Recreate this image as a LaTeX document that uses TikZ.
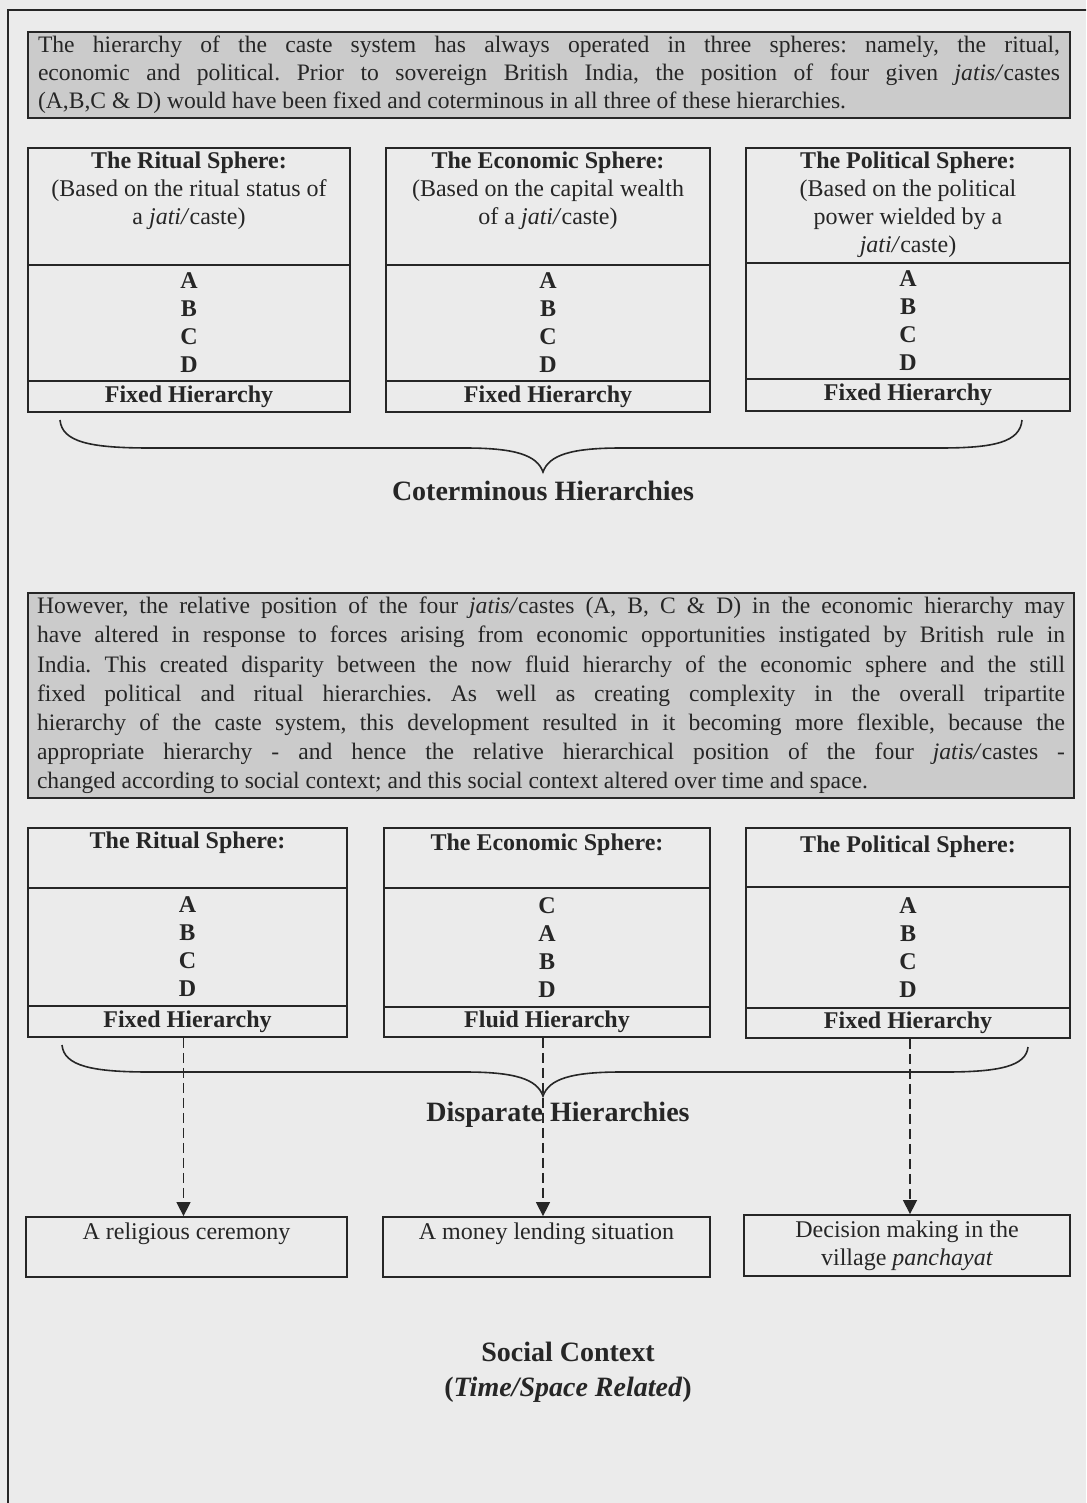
\documentclass[tikz,border=0pt]{standalone}
\usepackage{fontspec}
\setmainfont{Liberation Serif}
\usetikzlibrary{arrows.meta,fit}
\definecolor{bg}{HTML}{EBEBEB}
\definecolor{shade}{HTML}{CBCBCB}
\definecolor{ink}{HTML}{262626}
\frenchspacing
\begin{document}
\begin{tikzpicture}[x=0.5pt,y=-0.5pt,
  every node/.style={text=ink},
  cell/.style={draw=ink, line width=0.9pt, inner sep=0pt},
  parabox/.style={draw=ink, line width=0.9pt, fill=shade, align=justify, inner ysep=2pt},
  boxtext/.style={font=\fontsize{12}{14}\selectfont, align=center, inner sep=0pt},
  listtext/.style={font=\fontsize{12}{14}\selectfont\bfseries, align=center, inner sep=0pt},
  bigtext/.style={font=\fontsize{14}{17.5}\selectfont\bfseries, align=center, inner sep=0pt},
  brace/.style={draw=ink, line width=0.8pt},
  dasharrow/.style={draw=ink, line width=0.7pt, dash pattern=on 5pt off 2.5pt, -{Triangle[length=7pt,width=7pt]}}
]
\useasboundingbox (0,0) rectangle (1086,1503);
\fill[bg] (0,0) rectangle (1086,1503);
\begin{scope}
\clip (0,0) rectangle (1086,1503);
\draw[ink, line width=0.8pt] (8,10) rectangle (1100,1520);
\end{scope}

% top paragraph
\node[parabox, text width=511pt, inner xsep=5pt, minimum height=43pt,
  font=\fontsize{11.8}{14}\selectfont\frenchspacing] (p1) at (549,75)
  {The hierarchy of the caste system has always operated in three spheres: namely, the ritual,\linebreak
   economic and political. Prior to sovereign British India, the position of four given \textit{jatis/}castes\linebreak
   (A,B,C \& D) would have been fixed and coterminous in all three of these hierarchies.};

% top row boxes
\node[cell, fit={(28,148)(350,265)}] (h1) {};
\node[cell, fit={(28,265)(350,381)}] (l1) {};
\node[cell, fit={(28,381)(350,412)}] (f1) {};
\node[cell, fit={(386,148)(710,265)}] (h2) {};
\node[cell, fit={(386,265)(710,381)}] (l2) {};
\node[cell, fit={(386,381)(710,412)}] (f2) {};
\node[cell, fit={(746,148)(1070,263)}] (h3) {};
\node[cell, fit={(746,263)(1070,379)}] (l3) {};
\node[cell, fit={(746,379)(1070,411)}] (f3) {};

\node[boxtext, anchor=north] (h1t) at ([yshift=-2pt]h1.north)
  {\textbf{The Ritual Sphere:}\\(Based on the ritual status of\\a \textit{jati/}caste)};
\node[boxtext, anchor=north] (h2t) at ([yshift=-2pt]h2.north)
  {\textbf{The Economic Sphere:}\\(Based on the capital wealth\\of a \textit{jati/}caste)};
\node[boxtext, anchor=north] (h3t) at ([yshift=-2pt]h3.north)
  {\textbf{The Political Sphere:}\\(Based on the political\\power wielded by a\\\textit{jati/}caste)};
\node[listtext] (l1t) at (l1.center) {A\\B\\C\\D};
\node[listtext] (l2t) at (l2.center) {A\\B\\C\\D};
\node[listtext] (l3t) at (l3.center) {A\\B\\C\\D};
\node[listtext] (f1t) at (f1.center) {Fixed Hierarchy};
\node[listtext] (f2t) at (f2.center) {Fixed Hierarchy};
\node[listtext] (f3t) at (f3.center) {Fixed Hierarchy};

% brace 1
\draw[brace] (60,420) .. controls (62,442) and (90,448) .. (150,448) -- (465,448)
  .. controls (515,448) and (537,455) .. (543,472)
  .. controls (549,455) and (571,448) .. (621,448) -- (940,448)
  .. controls (995,448) and (1020,442) .. (1022,420);
\node[bigtext] (cot) at (543,491) {Coterminous Hierarchies};

% second paragraph
\node[parabox, text width=514pt, inner xsep=4.5pt, minimum height=102.5pt,
  font=\fontsize{11.8}{14.6}\selectfont\frenchspacing] (p2) at (551,695.5)
  {However, the relative position of the four \textit{jatis/}castes (A, B, C \& D) in the economic hierarchy may\linebreak
   have altered in response to forces arising from economic opportunities instigated by British rule in\linebreak
   India. This created disparity between the now fluid hierarchy of the economic sphere and the still\linebreak
   fixed political and ritual hierarchies. As well as creating complexity in the overall tripartite\linebreak
   hierarchy of the caste system, this development resulted in it becoming more flexible, because the\linebreak
   appropriate hierarchy - and hence the relative hierarchical position of the four \textit{jatis/}castes -\linebreak
   changed according to social context; and this social context altered over time and space.};

% bottom row boxes
\node[cell, fit={(28,828)(347,888)}] (h4) {};
\node[cell, fit={(28,888)(347,1006)}] (l4) {};
\node[cell, fit={(28,1006)(347,1037)}] (f4) {};
\node[cell, fit={(384,828)(710,888)}] (h5) {};
\node[cell, fit={(384,888)(710,1007)}] (l5) {};
\node[cell, fit={(384,1007)(710,1037)}] (f5) {};
\node[cell, fit={(746,828)(1070,887)}] (h6) {};
\node[cell, fit={(746,887)(1070,1008)}] (l6) {};
\node[cell, fit={(746,1008)(1070,1038)}] (f6) {};

\node[boxtext, anchor=north] (h4t) at ([yshift=-2pt]h4.north) {\textbf{The Ritual Sphere:}};
\node[boxtext, anchor=north] (h5t) at ([yshift=-3pt]h5.north) {\textbf{The Economic Sphere:}};
\node[boxtext, anchor=north] (h6t) at ([yshift=-4pt]h6.north) {\textbf{The Political Sphere:}};
\node[listtext] (l4t) at (l4.center) {A\\B\\C\\D};
\node[listtext] (l5t) at (l5.center) {C\\A\\B\\D};
\node[listtext] (l6t) at (l6.center) {A\\B\\C\\D};
\node[listtext] (f4t) at (f4.center) {Fixed Hierarchy};
\node[listtext] (f5t) at (f5.center) {Fluid Hierarchy};
\node[listtext] (f6t) at (f6.center) {Fixed Hierarchy};

% brace 2
\draw[brace] (62,1045) .. controls (64,1066) and (92,1072) .. (150,1072) -- (465,1072)
  .. controls (515,1072) and (537,1079) .. (543,1096)
  .. controls (549,1079) and (571,1072) .. (621,1072) -- (945,1072)
  .. controls (1000,1072) and (1026,1066) .. (1028,1047);
\node[bigtext] (dis) at (558,1115) {Disparate Hierarchies};

% context boxes
\node[cell, fit={(26,1217)(347,1277)}] (c1) {};
\node[cell, fit={(383,1217)(710,1277)}] (c2) {};
\node[cell, fit={(744,1215)(1070,1276)}] (c3) {};
\node[boxtext, anchor=north] (c1t) at ([yshift=-3pt]c1.north) {A religious ceremony};
\node[boxtext, anchor=north] (c2t) at ([yshift=-3pt]c2.north) {A money lending situation};
\node[boxtext, anchor=north] (c3t) at ([yshift=-3pt]c3.north) {Decision making in the\\village \textit{panchayat}};

% dashed arrows
\draw[dasharrow] ([xshift=-2pt]f4.south) -- ([xshift=-2pt]f4.south |- c1.north);
\draw[dasharrow] ([xshift=-2pt]f5.south) -- ([xshift=-2pt]f5.south |- c2.north);
\draw[dasharrow] ([xshift=1pt]f6.south) -- ([xshift=1pt]f6.south |- c3.north);

% social context
\node[bigtext] (soc) at (568,1372) {Social Context\\(\textit{Time/Space Related})};
\end{tikzpicture}
\end{document}
